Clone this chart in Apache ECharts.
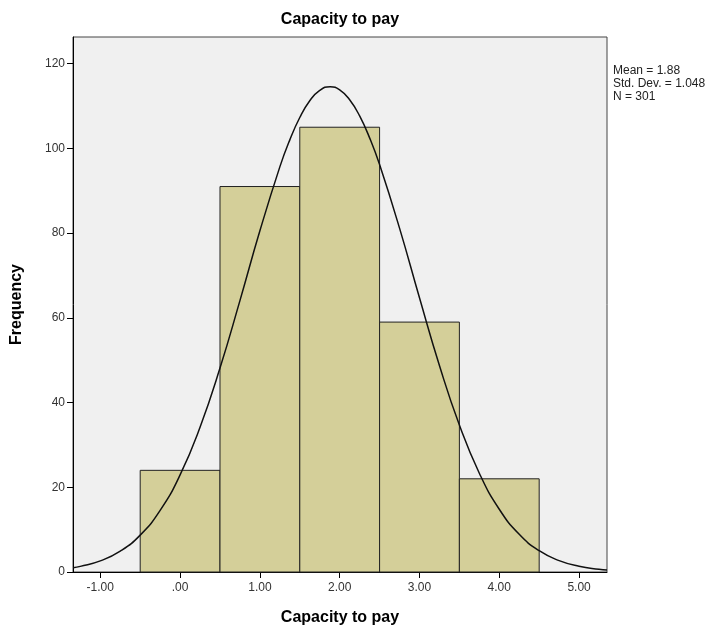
<!DOCTYPE html>
<html>
<head>
<meta charset="utf-8">
<script src="https://cdn.jsdelivr.net/npm/echarts@6/dist/echarts.min.js"></script>
<style>html,body{margin:0;padding:0;background:#fff}#c{width:725px;height:633px}</style>
</head>
<body>
<div id="c"></div>
<script>
// Histogram bins (centre of bin) and frequencies
var binCenters = [0, 1, 2, 3, 4];
var frequencies = [24, 91, 105, 59, 22];
var binWidth = 1;
// Fitted normal curve
var curveX = [-1.34, -1.25, -1.0, -0.75, -0.5, -0.25, 0, 0.25, 0.5, 0.75, 1.0, 1.25, 1.375, 1.5, 1.625, 1.75, 1.88, 2.0, 2.125, 2.25, 2.375, 2.5, 2.75, 3.0, 3.25, 3.5, 3.75, 4.0, 4.25, 4.5, 4.75, 5.0, 5.25, 5.35];
var curveY = [1.02, 1.33, 2.63, 4.92, 8.70, 14.53, 22.92, 34.18, 48.15, 64.07, 80.54, 95.64, 102.02, 107.29, 111.24, 113.70, 114.58, 113.83, 111.49, 107.66, 102.49, 96.18, 81.18, 64.73, 48.75, 34.69, 23.32, 14.81, 8.89, 5.03, 2.69, 1.36, 0.65, 0.48];
var xTicks = [-1, 0, 1, 2, 3, 4, 5];
var yTicks = [0, 20, 40, 60, 80, 100, 120];
var titleText = 'Capacity to pay';
var statsLines = ['Mean = 1.88', 'Std. Dev. = 1.048', 'N = 301'];

var chart = echarts.init(document.getElementById('c'), null, {renderer: 'canvas'});
var barData = binCenters.map(function (c, i) { return [c, frequencies[i]]; });
var curveData = curveX.map(function (x, i) { return [x, curveY[i]]; });
var F = 'Arial, "Liberation Sans", sans-serif';

chart.setOption({
  animation: false,
  backgroundColor: '#ffffff',
  grid: {left: 73, right: 118, top: 37, bottom: 61, show: true, backgroundColor: '#f0f0f0', borderColor: '#444', borderWidth: 1},
  graphic: [
    {type: 'text', x: 340, y: 12, style: {text: titleText, font: 'bold 16px ' + F, fill: '#000', textAlign: 'center', textVerticalAlign: 'top'}},
    {type: 'text', x: 613, y: 64, style: {text: statsLines.join('\n'), font: '12px ' + F, fill: '#222', lineHeight: 13, textVerticalAlign: 'top'}}
  ],
  xAxis: {
    type: 'value', min: -1.342, max: 5.35,
    name: titleText, nameLocation: 'middle', nameGap: 38,
    nameTextStyle: {fontFamily: F, fontSize: 16, fontWeight: 'bold', color: '#000'},
    axisLine: {show: true, onZero: false, lineStyle: {color: '#000', width: 1}},
    axisTick: {show: true, length: 6, customValues: xTicks, lineStyle: {color: '#000'}},
    axisLabel: {customValues: xTicks, fontFamily: F, fontSize: 12, color: '#333', margin: 10,
      formatter: function (v) { return v === 0 ? '.00' : v.toFixed(2); }},
    splitLine: {show: false}
  },
  yAxis: {
    type: 'value', min: 0, max: 126.3,
    name: 'Frequency', nameLocation: 'middle', nameGap: 48,
    nameTextStyle: {fontFamily: F, fontSize: 16, fontWeight: 'bold', color: '#000'},
    axisLine: {show: true, onZero: false, lineStyle: {color: '#000', width: 1}},
    axisTick: {show: true, length: 6, customValues: yTicks, lineStyle: {color: '#000'}},
    axisLabel: {customValues: yTicks, fontFamily: F, fontSize: 12, color: '#333', margin: 8},
    splitLine: {show: false}
  },
  series: [
    {
      type: 'custom',
      data: barData,
      renderItem: function (params, api) {
        var c = api.value(0), v = api.value(1);
        var p0 = api.coord([c - binWidth / 2, v]);
        var p1 = api.coord([c + binWidth / 2, 0]);
        return {type: 'rect', shape: {x: p0[0], y: p0[1], width: p1[0] - p0[0], height: p1[1] - p0[1]},
          style: {fill: '#d4cf99', stroke: '#222', lineWidth: 1}};
      },
      encode: {x: 0, y: 1},
      z: 2
    },
    {
      type: 'line', data: curveData, smooth: true, showSymbol: false, symbol: 'none',
      lineStyle: {color: '#111', width: 1.5}, z: 3, clip: true
    }
  ]
});
</script>
</body>
</html>
